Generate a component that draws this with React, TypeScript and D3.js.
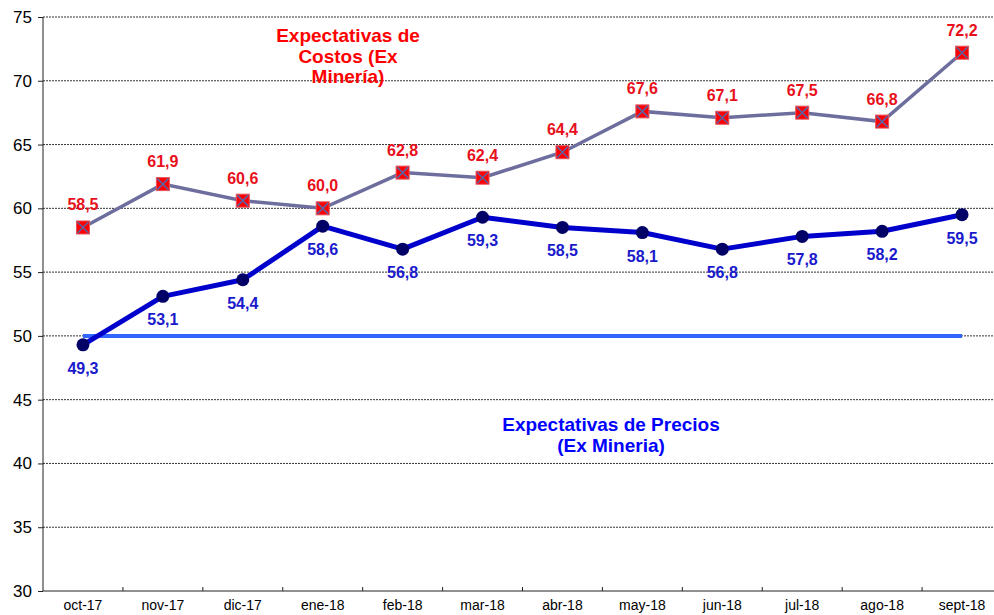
import React, { useEffect, useRef } from 'react';
import * as d3 from 'd3';

const months = ['oct-17', 'nov-17', 'dic-17', 'ene-18', 'feb-18', 'mar-18', 'abr-18', 'may-18', 'jun-18', 'jul-18', 'ago-18', 'sept-18'];
const costos = [58.5, 61.9, 60.6, 60.0, 62.8, 62.4, 64.4, 67.6, 67.1, 67.5, 66.8, 72.2];
const precios = [49.3, 53.1, 54.4, 58.6, 56.8, 59.3, 58.5, 58.1, 56.8, 57.8, 58.2, 59.5];
const umbral = 50;
const yTicks = [30, 35, 40, 45, 50, 55, 60, 65, 70, 75];

const fmt = (v: number) => v.toFixed(1).replace('.', ',');

const App = () => {
    const ref = useRef<SVGSVGElement>(null);

    useEffect(() => {
        if (!ref.current) return;
        const svg = d3.select(ref.current);
        svg.selectAll('*').remove();

        const left = 43, right = 1002, top = 17, bottom = 591;
        const font = "'Liberation Sans', Arial, sans-serif";

        const x = d3.scaleBand<string>().domain(months).range([left, right]).padding(0);
        const cx = (m: string) => (x(m) as number) + x.bandwidth() / 2;
        const y = d3.scaleLinear().domain([30, 75]).range([bottom, top]);

        // gridlines
        svg.append('g').selectAll('line').data(yTicks.filter(t => t > 30)).enter().append('line')
            .attr('x1', left).attr('x2', 994)
            .attr('y1', d => y(d)).attr('y2', d => y(d))
            .attr('stroke', '#333').attr('stroke-width', 1).attr('stroke-dasharray', '2,1');

        // y axis
        const yAxis = svg.append('g').attr('transform', `translate(${left},0)`)
            .call(d3.axisLeft(y).tickValues(yTicks).tickSize(5).tickPadding(6));
        yAxis.select('.domain').attr('stroke', '#222').attr('d', `M0,${top}V${bottom}`);
        yAxis.selectAll('.tick line').attr('stroke', '#222');
        yAxis.selectAll('text').attr('font-family', font).attr('font-size', 17).attr('fill', '#000');

        // x axis
        svg.append('line').attr('x1', left).attr('x2', 994).attr('y1', bottom).attr('y2', bottom)
            .attr('stroke', '#222').attr('stroke-width', 1);
        svg.append('g').selectAll('line').data(months.slice(1)).enter().append('line')
            .attr('x1', d => x(d) as number).attr('x2', d => x(d) as number)
            .attr('y1', bottom).attr('y2', bottom - 4).attr('stroke', '#222');
        svg.append('g').selectAll('text').data(months).enter().append('text')
            .attr('x', d => cx(d)).attr('y', bottom + 19)
            .attr('text-anchor', 'middle').attr('font-family', font).attr('font-size', 14)
            .attr('fill', '#000').text(d => d);

        // 50 threshold line
        svg.append('line')
            .attr('x1', cx(months[0])).attr('x2', cx(months[months.length - 1]))
            .attr('y1', y(umbral)).attr('y2', y(umbral))
            .attr('stroke', '#3366ff').attr('stroke-width', 4);

        const line = d3.line<number>().x((_, i) => cx(months[i])).y(d => y(d));

        // costos
        svg.append('path').datum(costos).attr('d', line).attr('fill', 'none')
            .attr('stroke', '#6e6e9e').attr('stroke-width', 3.5);
        const sq = 13;
        const cg = svg.append('g').selectAll('g').data(costos).enter().append('g')
            .attr('transform', (d, i) => `translate(${cx(months[i])},${y(d)})`);
        cg.append('rect').attr('x', -sq / 2).attr('y', -sq / 2).attr('width', sq).attr('height', sq)
            .attr('fill', '#ff0000').attr('stroke', '#e8535a').attr('stroke-width', 1);
        cg.append('path').attr('d', `M${-sq / 2 + 1},${-sq / 2 + 1}L${sq / 2 - 1},${sq / 2 - 1}M${sq / 2 - 1},${-sq / 2 + 1}L${-sq / 2 + 1},${sq / 2 - 1}`)
            .attr('stroke', '#6060a0').attr('stroke-width', 1.6);
        svg.append('g').selectAll('text').data(costos).enter().append('text')
            .attr('x', (d, i) => cx(months[i])).attr('y', d => y(d) - 17)
            .attr('text-anchor', 'middle').attr('font-family', font).attr('font-size', 16)
            .attr('font-weight', 'bold').attr('fill', '#e8101a').text(d => fmt(d));

        // precios
        svg.append('path').datum(precios).attr('d', line).attr('fill', 'none')
            .attr('stroke', '#0000cc').attr('stroke-width', 5).attr('stroke-linejoin', 'round');
        svg.append('g').selectAll('circle').data(precios).enter().append('circle')
            .attr('cx', (d, i) => cx(months[i])).attr('cy', d => y(d)).attr('r', 6.5)
            .attr('fill', '#000066');
        svg.append('g').selectAll('text').data(precios).enter().append('text')
            .attr('x', (d, i) => cx(months[i])).attr('y', d => y(d) + 29)
            .attr('text-anchor', 'middle').attr('font-family', font).attr('font-size', 16)
            .attr('font-weight', 'bold').attr('fill', '#1a1acc').text(d => fmt(d));

        // annotations
        const note = (lines: string[], xPos: number, yPos: number, color: string) => {
            const t = svg.append('text').attr('text-anchor', 'middle').attr('font-family', font)
                .attr('font-size', 19).attr('font-weight', 'bold').attr('fill', color);
            lines.forEach((l, i) => t.append('tspan').attr('x', xPos).attr('y', yPos + i * 20.5).text(l));
        };
        note(['Expectativas de', 'Costos (Ex', 'Minería)'], 348, 42, '#ff0000');
        note(['Expectativas de Precios', '(Ex Mineria)'], 611, 431, '#0000ff');
    }, []);

    return (
        <svg ref={ref} width={994} height={615}
            style={{ position: 'absolute', left: 0, top: 0, background: '#fff' }} />
    );
};

export default App;
